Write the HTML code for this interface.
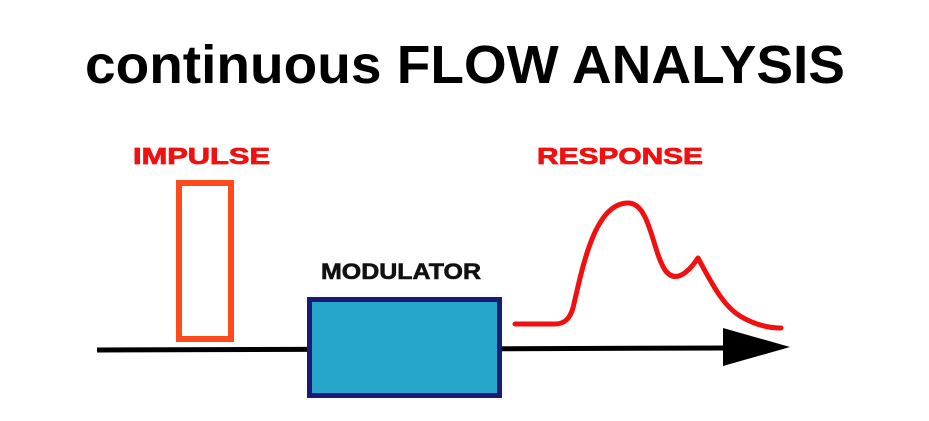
<!DOCTYPE html>
<html><head><style>html,body{margin:0;padding:0;background:#fff;}</style></head>
<body>
<svg width="929" height="416" xmlns="http://www.w3.org/2000/svg">
<rect width="929" height="416" fill="#fff"/>
<text x="85" y="83" font-family="Liberation Sans, sans-serif" font-size="54" font-weight="bold" textLength="760" lengthAdjust="spacingAndGlyphs" fill="#000">continuous FLOW ANALYSIS</text>
<text x="133" y="164" font-family="Liberation Sans, sans-serif" font-size="23" font-weight="bold" textLength="137" lengthAdjust="spacingAndGlyphs" fill="#f01010" stroke="#f01010" stroke-width="0.8">IMPULSE</text>
<text x="537" y="164" font-family="Liberation Sans, sans-serif" font-size="23" font-weight="bold" textLength="166" lengthAdjust="spacingAndGlyphs" fill="#f01010" stroke="#f01010" stroke-width="0.8">RESPONSE</text>
<text x="321" y="279" font-family="Liberation Sans, sans-serif" font-size="22" font-weight="bold" textLength="160" lengthAdjust="spacingAndGlyphs" fill="#111" stroke="#111" stroke-width="0.6">MODULATOR</text>
<line x1="97" y1="350" x2="730" y2="348" stroke="#000" stroke-width="5"/>
<polygon points="723,328 790,347 723,366" fill="#000"/>
<rect x="179" y="183" width="52" height="156" fill="none" stroke="#ff4a1c" stroke-width="6"/>
<rect x="309.5" y="299.5" width="190" height="96" fill="#27a6cc" stroke="#1a1a78" stroke-width="5"/>
<path d="M515,324 L555,324 C565,324 570,318 573,308 C583,265 595,203 628,203 C650,203 652,250 665,270 C675,284 688,273 698,258 C710,280 722,305 740,316 C755,325 770,328 781,328" fill="none" stroke="#f01010" stroke-width="5" stroke-linecap="round" stroke-linejoin="round"/>
</svg>
</body></html>
